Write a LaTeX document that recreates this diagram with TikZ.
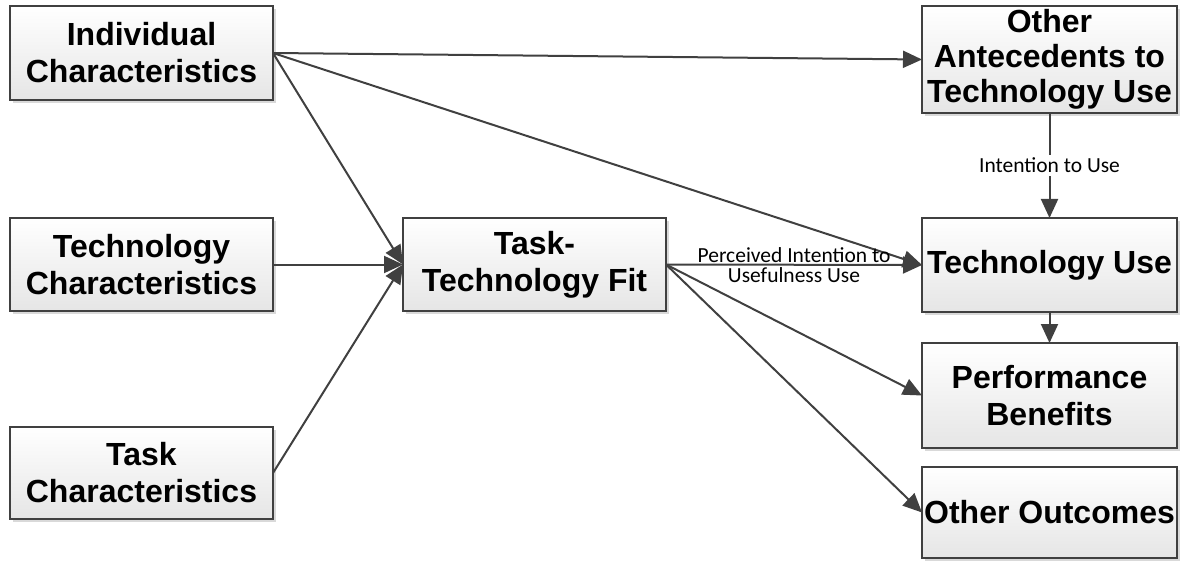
\documentclass[tikz,border=0pt]{standalone}
\usepackage{fontspec}
\setmainfont{Liberation Sans}
\newfontfamily\lblfont{Carlito}
\usetikzlibrary{arrows.meta,shadows}
\definecolor{linecol}{HTML}{404040}
\tikzset{
  boxnode/.style={draw=linecol, line width=2pt, rectangle, anchor=north west,
    inner sep=0pt, outer sep=0pt, top color=white, bottom color=black!10,
    drop shadow={shadow xshift=3pt, shadow yshift=-3pt, fill=black!25, opacity=0.6},
    align=center, font=\bfseries\fontsize{32}{37}\selectfont},
  conn/.style={draw=linecol, line width=2pt, -{Triangle[length=19pt,width=17pt]}},
  lbl/.style={font=\lblfont\fontsize{21.5}{23}\selectfont, text=black, inner sep=2pt}
}
\begin{document}
\begin{tikzpicture}[x=1pt,y=-1pt]
\useasboundingbox (0,0) rectangle (1185,561);
% left column
\node[boxnode, minimum width=263pt, minimum height=94pt] (ind) at (10,6) {Individual\\Characteristics};
\node[boxnode, minimum width=263pt, minimum height=93pt] (tec) at (10,218) {Technology\\Characteristics};
\node[boxnode, minimum width=263pt, minimum height=92pt] (tsk) at (10,427) {Task\\Characteristics};
% middle
\node[boxnode, minimum width=263pt, minimum height=93pt] (ttf) at (403,218) {Task-\\Technology Fit};
% right column
\node[boxnode, minimum width=255pt, minimum height=107pt, font=\bfseries\fontsize{32}{35}\selectfont] (oa) at (922,6) {Other\\Antecedents to\\Technology Use};
\node[boxnode, minimum width=255pt, minimum height=94pt] (tu) at (922,218) {Technology Use};
\node[boxnode, minimum width=255pt, minimum height=105pt] (pb) at (922,343) {Performance\\Benefits};
\node[boxnode, minimum width=255pt, minimum height=91pt] (oo) at (922,467) {Other Outcomes};
% connectors
\draw[conn] (ind.east) -- (oa.west);
\draw[conn] (ind.east) -- (tu.west);
\draw[conn] (ind.east) -- (ttf.west);
\draw[conn] (tec.east) -- (ttf.west);
\draw[conn] (tsk.east) -- (ttf.west);
\draw[conn] (ttf.east) -- node[lbl, above, inner sep=1pt] (l1) {Perceived Intention to} node[lbl, below, inner sep=2pt] (l2) {Usefulness Use} (tu.west);
\draw[conn] (ttf.east) -- (pb.west);
\draw[conn] (ttf.east) -- (oo.west);
\draw[conn] (oa.south) -- node[lbl, fill=white, inner sep=3pt] (l3) {Intention to Use} (tu.north);
\draw[conn] (tu.south) -- (pb.north);
\end{tikzpicture}
\end{document}
